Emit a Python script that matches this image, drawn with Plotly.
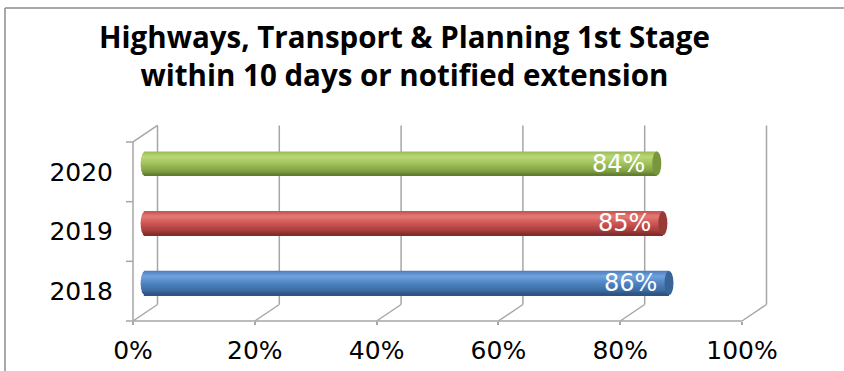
import numpy as np
import plotly.graph_objects as go

# ---- data -------------------------------------------------------------
years = ["2018", "2019", "2020"]
values = [86, 85, 84]
x_ticks = [0, 20, 40, 60, 80, 100]
x_tick_text = ["0%", "20%", "40%", "60%", "80%", "100%"]
title_lines = ["Highways, Transport & Planning 1st Stage",
               "within 10 days or notified extension"]

# ---- geometry (pixel -> axis units) -----------------------------------
W, H = 844, 371
PX_PER_PCT = 6.09          # horizontal pixels per percent
X0_PX = 133                # front 0% position
PX_PER_CAT = 59.67         # vertical pixels per category slot
Y_FRONT_BOTTOM = 321
y_c0 = Y_FRONT_BOTTOM - PX_PER_CAT * 0.5   # pixel of category 0 centre

x_range = [-X0_PX / PX_PER_PCT, (W - X0_PX) / PX_PER_PCT]
y_range = [(y_c0 - H) / PX_PER_CAT, y_c0 / PX_PER_CAT]

DX = 24.5 / PX_PER_PCT     # depth offset to the back wall (x)
DY = 16.5 / PX_PER_CAT     # depth offset to the back wall (y)
mid_x0 = DX / 2            # bar zero at half depth
mid_dy = DY / 2

bar_px = 24
bar_th = bar_px / PX_PER_CAT
cap_rx_px = 4.5

# shading stops for cylinders: (t from top to bottom, colour)
shades = {
    "2018": [(0.0, "#4a7bb5"), (0.22, "#72a3de"), (0.5, "#5086c4"), (0.82, "#3d6ca3"), (1.0, "#2a4f7e")],
    "2019": [(0.0, "#c2514e"), (0.22, "#e57a76"), (0.5, "#cd5754"), (0.82, "#a63e3b"), (1.0, "#7a2a28")],
    "2020": [(0.0, "#98b95a"), (0.22, "#bad877"), (0.5, "#a2c25e"), (0.82, "#809f44"), (1.0, "#5c772b")],
}
cap_colors = {"2018": "#3a6396", "2019": "#983a37", "2020": "#7a963d"}


def hex2rgb(h):
    h = h.lstrip("#")
    return np.array([int(h[i:i + 2], 16) for i in (0, 2, 4)], dtype=float)


def shade_at(stops, t):
    for (t0, c0), (t1, c1) in zip(stops[:-1], stops[1:]):
        if t0 <= t <= t1:
            f = (t - t0) / (t1 - t0)
            c = hex2rgb(c0) * (1 - f) + hex2rgb(c1) * f
            return "rgb(%d,%d,%d)" % tuple(np.round(c))
    return stops[-1][1]


fig = go.Figure()

# ---- cylinders drawn as stacked stripes -------------------------------
N = 18
stripe = bar_th / N
centers = [i + mid_dy for i in range(len(years))]
for k in range(N):
    t = (k + 0.5) / N                  # 0 top .. 1 bottom
    s = 2 * t - 1
    inset = (cap_rx_px / PX_PER_PCT) * np.sqrt(max(0.0, 1 - s * s))
    ys = [c + bar_th / 2 - (k + 0.5) * stripe for c in centers]
    fig.add_trace(go.Bar(
        orientation="h",
        y=ys,
        x=[v + inset for v in values],
        base=[mid_x0 - inset] * len(values),
        width=stripe * 1.25,
        marker=dict(color=[shade_at(shades[y], t) for y in years], line=dict(width=0)),
        hoverinfo="skip",
        showlegend=False,
    ))

shapes = []
grid = dict(color="#a6a6a6", width=1.5)

# back wall verticals and floor diagonals
for v in x_ticks:
    shapes.append(dict(type="line", x0=v + DX, x1=v + DX, y0=-0.5 + DY, y1=2.5 + DY,
                       line=grid, layer="below"))
    shapes.append(dict(type="line", x0=v, x1=v + DX, y0=-0.5, y1=-0.5 + DY,
                       line=grid, layer="below"))
# front floor edge and left wall
shapes.append(dict(type="line", x0=0, x1=100, y0=-0.5, y1=-0.5, line=grid, layer="below"))
shapes.append(dict(type="line", x0=0, x1=0, y0=-0.5, y1=2.5, line=grid, layer="below"))
shapes.append(dict(type="line", x0=0, x1=DX, y0=2.5, y1=2.5 + DY, line=grid, layer="below"))
# category tick marks on the left wall
for yy in [-0.5, 0.5, 1.5, 2.5]:
    shapes.append(dict(type="line", xref="x", yref="y", xsizemode="pixel", xanchor=0,
                       x0=-7, x1=0, y0=yy, y1=yy, line=grid, layer="below"))

# end faces of the cylinders
for y, v, c in zip(years, values, centers):
    shapes.append(dict(type="circle", xsizemode="pixel", ysizemode="pixel",
                       xanchor=mid_x0 + v, yanchor=c,
                       x0=-cap_rx_px, x1=cap_rx_px, y0=-bar_px / 2, y1=bar_px / 2,
                       fillcolor=cap_colors[y], line=dict(width=0), layer="above"))

# outer chart border (left and top)
shapes.append(dict(type="line", xref="paper", yref="paper",
                   x0=5 / W, x1=5 / W, y0=-0.05, y1=1 - 8 / H,
                   line=dict(color="#8c8c8c", width=1.5)))
shapes.append(dict(type="line", xref="paper", yref="paper",
                   x0=5 / W, x1=1.02, y0=1 - 8 / H, y1=1 - 8 / H,
                   line=dict(color="#8c8c8c", width=1.5)))

annotations = []
for v, c in zip(values, centers):
    annotations.append(dict(x=mid_x0 + v, y=c, xref="x", yref="y", text=f"{v}%",
                            showarrow=False, xanchor="right", yanchor="middle",
                            xshift=-10, yshift=0,
                            font=dict(family="DejaVu Sans", size=24, color="white")))

# two-line title
annotations.append(dict(xref="paper", yref="paper", x=404 / W, y=1 - 56 / H,
                        text="<b>" + "<br>".join(title_lines) + "</b>",
                        showarrow=False, xanchor="center", yanchor="middle",
                        font=dict(family="Open Sans", size=29.5, color="black")))

fig.update_layout(
    width=W, height=H,
    margin=dict(l=0, r=0, t=0, b=0),
    paper_bgcolor="white", plot_bgcolor="white",
    barmode="overlay",
    shapes=shapes, annotations=annotations,
    xaxis=dict(range=x_range, domain=[0, 1], anchor="free", position=(H - Y_FRONT_BOTTOM) / H,
               tickvals=x_ticks, ticktext=x_tick_text, ticks="outside", ticklen=3,
               tickcolor="#a6a6a6", tickwidth=1.5, showgrid=False, zeroline=False,
               showline=False, ticklabelstandoff=4,
               tickfont=dict(family="DejaVu Sans", size=25, color="black")),
    yaxis=dict(range=y_range, domain=[0, 1], anchor="free", position=X0_PX / W,
               tickvals=list(range(len(years))), ticktext=years, ticks="",
               showgrid=False, zeroline=False, showline=False, ticklabelstandoff=20,
               tickfont=dict(family="DejaVu Sans", size=25, color="black")),
)

fig.write_html("out.html")
